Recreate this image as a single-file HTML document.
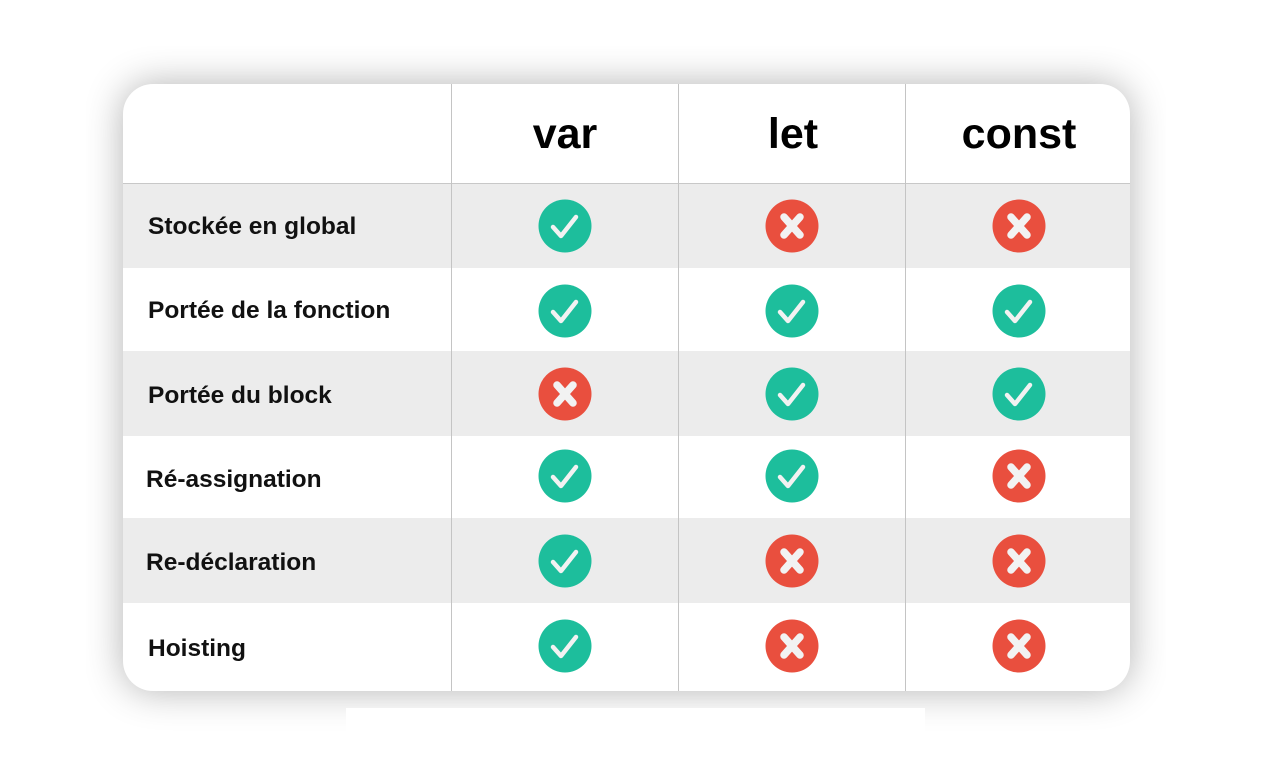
<!DOCTYPE html>
<html><head><meta charset="utf-8"><style>
html,body{margin:0;padding:0;background:#fff;width:1266px;height:765px;overflow:hidden;position:relative}
.clip{position:absolute;left:86px;top:46px;width:1080px;height:686px;overflow:hidden}
.card{position:absolute;left:37px;top:38px;width:1007px;height:607px;border-radius:30px;background:#fff;box-shadow:0 0 38px rgba(0,0,0,0.30);overflow:hidden}
.cover{position:absolute;left:346px;top:708px;width:579px;height:30px;background:#fff}
svg{position:absolute;left:0;top:0}
</style></head><body>
<div class="clip"><div class="card"></div></div>
<div class="cover"></div>
<svg width="1266" height="765" viewBox="0 0 1266 765">
<defs>
<clipPath id="c"><rect x="123" y="84" width="1007" height="607" rx="30"/></clipPath>
<g id="ok"><circle r="26.5" fill="#1dbe9c"/><path d="M-12,1 L-4,10 L11,-9" fill="none" stroke="#f2f2f2" stroke-width="4.5" stroke-linecap="round" stroke-linejoin="round"/></g>
<g id="no"><circle r="26.5" fill="#e94f3e"/><path d="M-8,-9 L8,9 M8,-9 L-8,9" fill="none" stroke="#f2f2f2" stroke-width="7.5" stroke-linecap="round"/></g>
</defs>
<g clip-path="url(#c)">
<rect x="123" y="183" width="1007" height="85" fill="#ececec"/>
<rect x="123" y="351" width="1007" height="85" fill="#ececec"/>
<rect x="123" y="518" width="1007" height="85" fill="#ececec"/>
<line x1="123" y1="183.5" x2="1130" y2="183.5" stroke="#c8c8c8" stroke-width="1"/>
<line x1="451.5" y1="84" x2="451.5" y2="691" stroke="#c4c4c4" stroke-width="1"/>
<line x1="678.5" y1="84" x2="678.5" y2="691" stroke="#c4c4c4" stroke-width="1"/>
<line x1="905.5" y1="84" x2="905.5" y2="691" stroke="#c4c4c4" stroke-width="1"/>
</g>
<g font-family="Liberation Sans, sans-serif" font-weight="bold" font-size="43" text-anchor="middle" fill="#000">
<text x="565" y="148">var</text><text x="793" y="148">let</text><text x="1019" y="148">const</text>
</g>
<g font-family="Liberation Sans, sans-serif" font-weight="bold" font-size="24.5" fill="#111">
<text x="148" y="234">Stockée en global</text>
<text x="148" y="318">Portée de la fonction</text>
<text x="148" y="403">Portée du block</text>
<text x="146" y="487">Ré-assignation</text>
<text x="146" y="570">Re-déclaration</text>
<text x="148" y="656">Hoisting</text>
</g>
<use href="#ok" x="565" y="226"/><use href="#no" x="792" y="226"/><use href="#no" x="1019" y="226"/>
<use href="#ok" x="565" y="311"/><use href="#ok" x="792" y="311"/><use href="#ok" x="1019" y="311"/>
<use href="#no" x="565" y="394"/><use href="#ok" x="792" y="394"/><use href="#ok" x="1019" y="394"/>
<use href="#ok" x="565" y="476"/><use href="#ok" x="792" y="476"/><use href="#no" x="1019" y="476"/>
<use href="#ok" x="565" y="561"/><use href="#no" x="792" y="561"/><use href="#no" x="1019" y="561"/>
<use href="#ok" x="565" y="646"/><use href="#no" x="792" y="646"/><use href="#no" x="1019" y="646"/>
</svg>
</body></html>
